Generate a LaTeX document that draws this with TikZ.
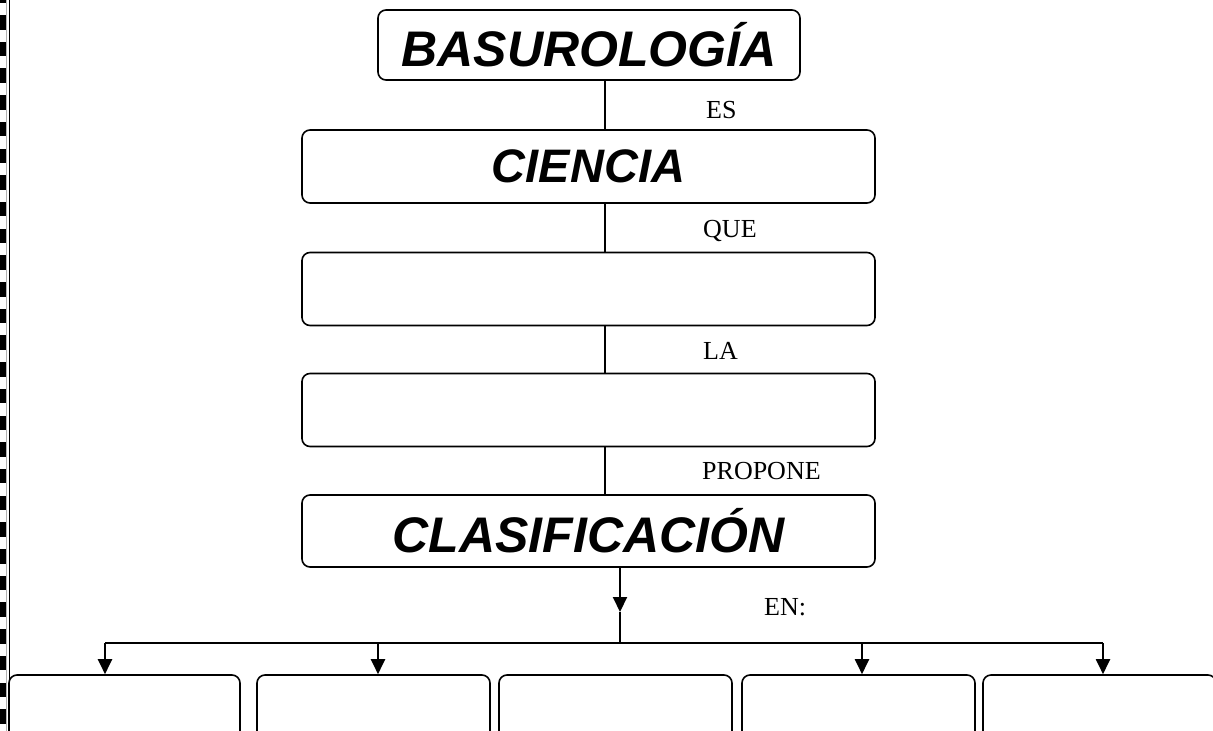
\documentclass[tikz,border=0pt]{standalone}
\usepackage{fontspec}
\setmainfont{Liberation Serif}
\newfontfamily\titlefont{Liberation Sans}
\usetikzlibrary{arrows.meta}
\tikzset{
  mapbox/.style={draw=black, line width=1.6pt, rounded corners=8pt, inner sep=0pt, fill=white},
  titletext/.style={font=\titlefont\bfseries\itshape\fontsize{50}{56}\selectfont},
  linklabel/.style={font=\fontsize{26}{30}\selectfont, anchor=west, inner sep=0pt},
  conn/.style={line width=2pt},
  arrowconn/.style={line width=2pt, -{Triangle[length=15pt,width=14pt]}},
}
\begin{document}
\begin{tikzpicture}[x=1pt,y=-1pt]
\useasboundingbox (0,0) rectangle (1213,731);
\clip (0,0) rectangle (1213,731);
% left decorative border
\foreach \k in {-1,...,27} {
  \fill[black] (0,{15+26.7*\k}) rectangle (6,{15+26.7*\k+14.5});
}
\draw[gray!60, line width=1pt] (6.5,0) -- (6.5,731);
\draw[black, line width=1.8pt] (9.5,0) -- (9.5,731);
% spine coordinates
\coordinate (spine) at (605,0);
\coordinate (spineB) at (620,0);
% main boxes
\node[mapbox, minimum width=422pt, minimum height=70pt, titletext] (basu) at (589,45) {BASUROLOGÍA};
\node[mapbox, minimum width=573pt, minimum height=73pt, titletext, font=\titlefont\bfseries\itshape\fontsize{47}{52}\selectfont] (cien) at (588.5,166.5) {CIENCIA};
\node[mapbox, minimum width=573pt, minimum height=73pt] (blank1) at (588.5,289) {};
\node[mapbox, minimum width=573pt, minimum height=73pt] (blank2) at (588.5,410) {};
\node[mapbox, minimum width=573pt, minimum height=72pt, titletext] (clas) at (588.5,531) {CLASIFICACIÓN};
% bottom boxes
\node[mapbox, minimum width=231pt, minimum height=90pt] (b1) at (124.5,720) {};
\node[mapbox, minimum width=233pt, minimum height=90pt] (b2) at (373.5,720) {};
\node[mapbox, minimum width=233pt, minimum height=90pt] (b3) at (615.5,720) {};
\node[mapbox, minimum width=233pt, minimum height=90pt] (b4) at (858.5,720) {};
\node[mapbox, minimum width=233pt, minimum height=90pt] (b5) at (1099.5,720) {};
% connectors
\draw[conn] (basu.south -| spine) -- (cien.north -| spine);
\draw[conn] (cien.south -| spine) -- (blank1.north -| spine);
\draw[conn] (blank1.south -| spine) -- (blank2.north -| spine);
\draw[conn] (blank2.south -| spine) -- (clas.north -| spine);
% labels
\node[linklabel] (les) at (706,110) {ES};
\node[linklabel] (lque) at (703,231) {QUE};
\node[linklabel] (lla) at (703,351) {LA};
\node[linklabel] (lprop) at (702,471) {PROPONE};
\node[linklabel] (len) at (764,607) {EN:};
% distribution
\coordinate (mid) at (620,612);
\coordinate (junc) at (620,643);
\coordinate (hl) at (105,643);
\coordinate (hr) at (1103,643);
\coordinate (h2) at (378,643);
\coordinate (h4) at (862,643);
\draw[arrowconn] (clas.south -| spineB) -- (mid);
\draw[conn] (mid) -- (junc);
\draw[line width=2.5pt] (hl) -- (hr);
\draw[arrowconn] (hl) -- (hl |- b1.north);
\draw[arrowconn] (h2) -- (h2 |- b2.north);
\draw[arrowconn] (h4) -- (h4 |- b4.north);
\draw[arrowconn] (hr) -- (hr |- b5.north);
\end{tikzpicture}
\end{document}
